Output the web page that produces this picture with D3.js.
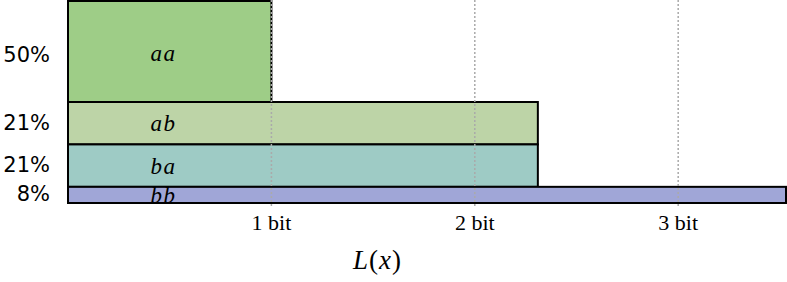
<!DOCTYPE html>
<html><head><meta charset="utf-8">
<script src="https://cdn.jsdelivr.net/npm/d3@7"></script>
<style>html,body{margin:0;padding:0;background:#fff;}svg{display:block;}</style>
</head><body>
<svg id="c" width="787" height="282"></svg>
<script>
const codes = ["aa", "ab", "ba", "bb"];
const probs = [0.50, 0.21, 0.21, 0.08];
const probLabels = ["50%", "21%", "21%", "8%"];
const lengths = [1.0, 2.31, 2.31, 3.53];
const colors = ["#9ecd87", "#bdd4a7", "#9ecbc5", "#a0a6d7"];
const tickValues = [1, 2, 3];
const tickLabels = ["1 bit", "2 bit", "3 bit"];
const xTitle = "L(x)";

const svg = d3.select("#c");
const x = d3.scaleLinear().domain([0, 3.53]).range([68, 786]);
const y = d3.scaleLinear().domain([0, 1]).range([1, 203]);

let cum = 0;
const rows = codes.map((c, i) => { const r = {i, c, p: probs[i], lab: probLabels[i], len: lengths[i], col: colors[i], y0: cum}; cum += probs[i]; return r; });
const mid = d => y(d.y0 + d.p / 2);

svg.selectAll("rect.bar").data(rows).join("rect")
  .attr("class", "bar")
  .attr("x", x(0)).attr("y", d => y(d.y0))
  .attr("width", d => x(d.len) - x(0)).attr("height", d => y(d.y0 + d.p) - y(d.y0))
  .attr("fill", d => d.col).attr("stroke", "#000").attr("stroke-width", 2);

svg.selectAll("text.code").data(rows).join("text")
  .attr("class", "code")
  .attr("x", x(0.47)).attr("y", d => mid(d) + (d.i === 0 ? 9.5 : 8))
  .attr("text-anchor", "middle")
  .attr("font-family", "Liberation Serif, serif").attr("font-style", "italic")
  .attr("font-size", 23).attr("letter-spacing", 1.5).text(d => d.c);

svg.selectAll("text.pct").data(rows).join("text")
  .attr("class", "pct")
  .attr("x", 50).attr("y", d => mid(d) + (d.i === 0 ? 10.5 : 6.5))
  .attr("text-anchor", "end")
  .attr("font-family", "DejaVu Sans, sans-serif").attr("font-size", 21)
  .text(d => d.lab);

svg.selectAll("line.grid").data(tickValues).join("line")
  .attr("class", "grid")
  .attr("x1", d => x(d)).attr("x2", d => x(d))
  .attr("y1", 0).attr("y2", 208)
  .attr("stroke", "#aaa").attr("stroke-width", 1.5).attr("stroke-dasharray", "2,2");

svg.selectAll("text.tick").data(tickValues).join("text")
  .attr("class", "tick")
  .attr("x", d => x(d)).attr("y", 230)
  .attr("text-anchor", "middle")
  .attr("font-family", "Liberation Serif, serif").attr("font-size", 22)
  .text((d, i) => tickLabels[i]);

svg.append("text").attr("x", 377.5).attr("y", 269).attr("text-anchor", "middle")
  .attr("font-family", "Liberation Serif, serif").attr("font-size", 27).attr("letter-spacing", 1)
  .html('<tspan font-style="italic">L</tspan>(<tspan font-style="italic">x</tspan>)');
</script>
</body></html>
